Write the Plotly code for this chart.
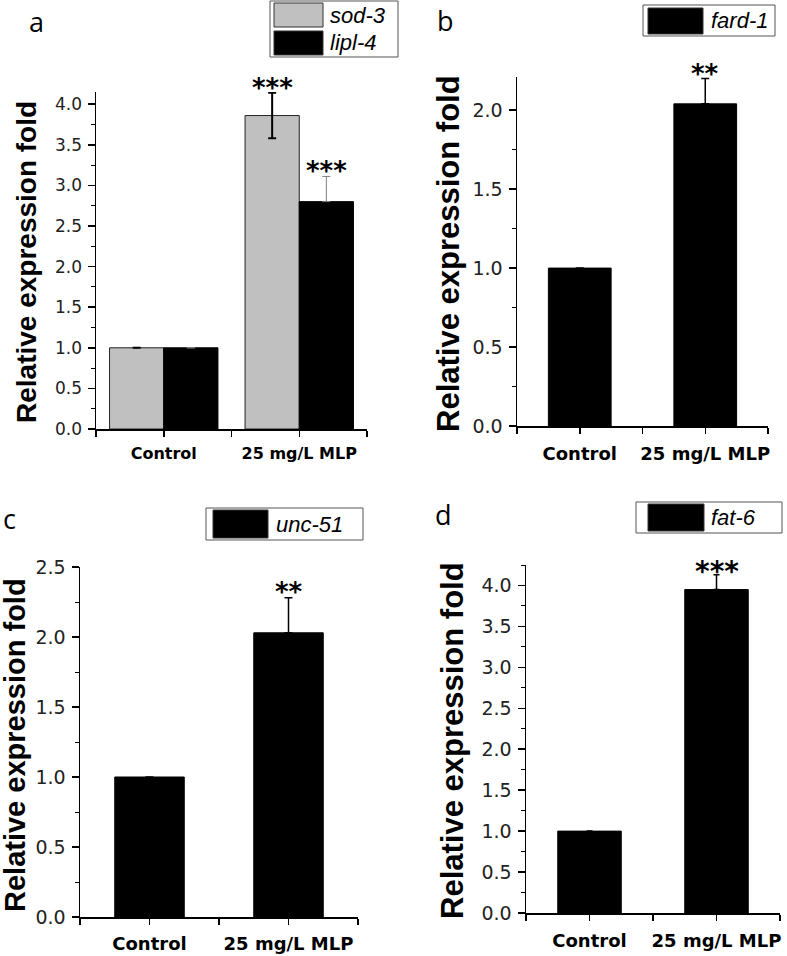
import plotly.graph_objects as go

W, H = 787, 956

categories = ["Control", "25 mg/L MLP"]

# panel a
a_names = ["sod-3", "lipl-4"]
a_sod3 = [1.0, 3.86]
a_sod3_err = [None, 0.28]
a_lipl4 = [1.0, 2.80]
a_lipl4_err = [None, 0.31]
a_sod3_sig = ["", "***"]
a_lipl4_sig = ["", "***"]

# panel b
b_name = "fard-1"
b_vals = [1.0, 2.04]
b_err = [None, 0.16]
b_sig = ["", "**"]

# panel c
c_name = "unc-51"
c_vals = [1.0, 2.03]
c_err = [None, 0.25]
c_sig = ["", "**"]

# panel d
d_name = "fat-6"
d_vals = [1.0, 3.95]
d_err = [None, 0.18]
d_sig = ["", "***"]

y_title = "Relative expression fold"
panel_letters = ["a", "b", "c", "d"]


def px(x):
    return x / W


def py(y):
    return 1 - y / H


xs = list(range(len(categories)))

fig = go.Figure()

GRAY = "#c0c0c0"


def err(arr, sym=False, color="black", thick=1.5, width=4):
    d = dict(type="data", array=arr, color=color, thickness=thick, width=width, visible=True)
    if sym:
        d["symmetric"] = True
    else:
        d["symmetric"] = False
        d["arrayminus"] = [0 if v is not None else None for v in arr]
    return d


# Panel a
fig.add_trace(go.Bar(x=xs, y=a_sod3, width=0.4, offset=-0.4, name=a_names[0],
                     marker=dict(color=GRAY, line=dict(color="#222", width=1)),
                     error_y=err(a_sod3_err, sym=True, thick=2, width=4),
                     xaxis="x", yaxis="y", showlegend=False))
fig.add_trace(go.Bar(x=xs, y=a_lipl4, width=0.4, offset=0.0, name=a_names[1],
                     marker=dict(color="black", line=dict(color="black", width=1)),
                     error_y=err(a_lipl4_err, color="#808080", thick=1, width=4),
                     xaxis="x", yaxis="y", showlegend=False))
# Panel b
fig.add_trace(go.Bar(x=xs, y=b_vals, width=0.5, name=b_name,
                     marker=dict(color="black", line=dict(color="black", width=1)),
                     error_y=err(b_err, thick=1.5, width=4),
                     xaxis="x2", yaxis="y2", showlegend=False))
# Panel c
fig.add_trace(go.Bar(x=xs, y=c_vals, width=0.5, name=c_name,
                     marker=dict(color="black", line=dict(color="black", width=1)),
                     error_y=err(c_err, thick=1.5, width=4),
                     xaxis="x3", yaxis="y3", showlegend=False))
# Panel d
fig.add_trace(go.Bar(x=xs, y=d_vals, width=0.5, name=d_name,
                     marker=dict(color="black", line=dict(color="black", width=1)),
                     error_y=err(d_err, thick=1.5, width=3),
                     xaxis="x4", yaxis="y4", showlegend=False))

TICKFONT = "DejaVu Sans"


def xaxis(domain, anchor, fsize, standoff):
    return dict(domain=domain, anchor=anchor, range=[-0.5, 1.5],
                tickvals=[-0.5, 0, 0.5, 1, 1.5],
                ticktext=["", categories[0], "", categories[1], ""],
                ticks="outside", ticklen=6, tickwidth=1.5, tickcolor="black",
                showline=True, linecolor="black", linewidth=1.5,
                showgrid=False, zeroline=False, fixedrange=True, automargin=False,
                tickfont=dict(family="DejaVu Sans", size=fsize, color="black", weight="bold"),
                ticklabelstandoff=standoff)


def yaxis(domain, anchor, rng, fsize):
    return dict(domain=domain, anchor=anchor, range=rng, dtick=0.5, tick0=0,
                tickformat=".1f", ticks="outside", ticklen=7, tickwidth=1.5,
                tickcolor="black", showline=True, linecolor="black", linewidth=1.5,
                showgrid=False, zeroline=False, fixedrange=True, automargin=False,
                minor=dict(ticks="outside", ticklen=4, tickwidth=1, dtick=0.25,
                           tickcolor="black", showgrid=False),
                tickfont=dict(family=TICKFONT, size=fsize, color="#222"),
                ticklabelstandoff=2)


fig.update_layout(
    width=W, height=H, margin=dict(l=0, r=0, t=0, b=0, pad=0, autoexpand=False),
    paper_bgcolor="white", plot_bgcolor="white", barmode="overlay",
    showlegend=False,
    xaxis=xaxis([px(96), px(367)], "y", 16, 3),
    yaxis=yaxis([py(429), py(92)], "x", [0, 4.15], 17),
    xaxis2=xaxis([px(517), px(768)], "y2", 18, 5),
    yaxis2=yaxis([py(426), py(77)], "x2", [0, 2.21], 19),
    xaxis3=xaxis([px(80), px(358)], "y3", 18, 4),
    yaxis3=yaxis([py(917), py(567)], "x3", [0, 2.5], 19),
    xaxis4=xaxis([px(526), px(780)], "y4", 18, 5),
    yaxis4=yaxis([py(913), py(565)], "x4", [0, 4.25], 19),
)

annotations = []
shapes = []


def stars(xref, yref, vals, errs, sigs, offset, size=26, shift=-12):
    for i, (v, e, s) in enumerate(zip(vals, errs, sigs)):
        if s:
            annotations.append(dict(x=i + offset, y=v + (e or 0), xref=xref, yref=yref,
                                    text=s, showarrow=False, yanchor="bottom",
                                    xanchor="center", yshift=shift,
                                    font=dict(family="DejaVu Sans", size=size, color="black",
                                              weight="bold")))


stars("x", "y", a_sod3, a_sod3_err, a_sod3_sig, -0.2)
stars("x", "y", a_lipl4, a_lipl4_err, a_lipl4_sig, 0.2)
stars("x2", "y2", b_vals, b_err, b_sig, 0.0)
stars("x3", "y3", c_vals, c_err, c_sig, 0.0, shift=-11)
stars("x4", "y4", d_vals, d_err, d_sig, 0.0, size=28, shift=-15)

# y titles
for (cx, cy, fs) in [(27, 262, 28), (448, 254, 31), (15, 745, 29), (452, 741, 31)]:
    annotations.append(dict(x=px(cx), y=py(cy), xref="paper", yref="paper",
                            text=y_title, textangle=-90, showarrow=False,
                            xanchor="center", yanchor="middle",
                            font=dict(family="Liberation Sans", size=fs, color="black",
                                      weight="bold")))

# panel letters
for (cx, cy, letter) in [(36, 22, panel_letters[0]), (445, 20, panel_letters[1]),
                         (9, 518, panel_letters[2]), (444, 514, panel_letters[3])]:
    annotations.append(dict(x=px(cx), y=py(cy), xref="paper", yref="paper",
                            text=letter, showarrow=False, xanchor="center",
                            yanchor="middle",
                            font=dict(family="Open Sans", size=27, color="black")))


# legends
def legend_box(x0, y0, x1, y1):
    shapes.append(dict(type="rect", xref="paper", yref="paper",
                       x0=px(x0), x1=px(x1), y0=py(y1), y1=py(y0),
                       line=dict(color="#555", width=1), fillcolor="white"))


def legend_item(sx0, sy0, sx1, sy1, color, label, tx):
    shapes.append(dict(type="rect", xref="paper", yref="paper",
                       x0=px(sx0), x1=px(sx1), y0=py(sy1), y1=py(sy0),
                       line=dict(color="#333", width=1), fillcolor=color))
    annotations.append(dict(x=px(tx), y=py((sy0 + sy1) / 2), xref="paper", yref="paper",
                            text="<i>" + label + "</i>", showarrow=False,
                            xanchor="left", yanchor="middle",
                            font=dict(family="Liberation Sans", size=22, color="black")))


legend_box(270, 1, 398, 57)
legend_item(274, 3, 323, 27, GRAY, a_names[0], 328)
legend_item(274, 31, 323, 55, "black", a_names[1], 328)

legend_box(643, 5, 775, 36)
legend_item(648, 8, 703, 34, "black", b_name, 709)

legend_box(206, 508, 363, 540)
legend_item(213, 510, 268, 538, "black", c_name, 274)

legend_box(636, 502, 782, 533)
legend_item(648, 504, 704, 531, "black", d_name, 709)

fig.update_layout(annotations=annotations, shapes=shapes)

fig.write_html("out.html", config={"displayModeBar": False, "staticPlot": True},
               post_script="document.body.style.margin='0';document.body.style.overflow='hidden';")
